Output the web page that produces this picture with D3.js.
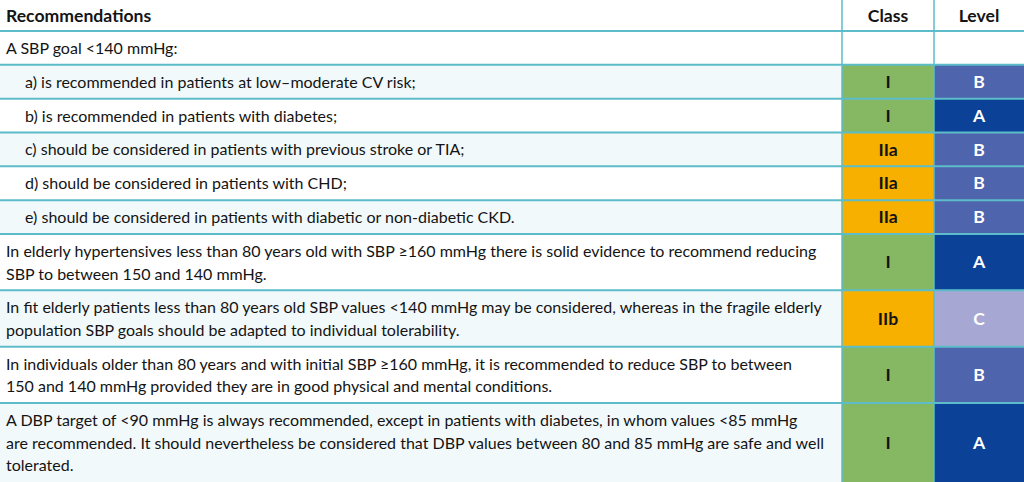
<!DOCTYPE html>
<html>
<head>
<meta charset="utf-8">
<script src="https://cdn.jsdelivr.net/npm/d3@7"></script>
<style>
  html, body { margin: 0; padding: 0; background: #fff; }
  svg { display: block; }
  text { font-family: Lato, "Open Sans", sans-serif; }
</style>
</head>
<body>
<svg id="chart" width="1024" height="482"></svg>
<script>
// ---- data ----
const headers = ["Recommendations", "Class", "Level"];
const recommendations = [
  ["A SBP goal <140 mmHg:"],
  ["a) is recommended in patients at low–moderate CV risk;"],
  ["b) is recommended in patients with diabetes;"],
  ["c) should be considered in patients with previous stroke or TIA;"],
  ["d) should be considered in patients with CHD;"],
  ["e) should be considered in patients with diabetic or non-diabetic CKD."],
  ["In elderly hypertensives less than 80 years old with SBP ≥160 mmHg there is solid evidence to recommend reducing",
   "SBP to between 150 and 140 mmHg."],
  ["In fit elderly patients less than 80 years old SBP values <140 mmHg may be considered, whereas in the fragile elderly",
   "population SBP goals should be adapted to individual tolerability."],
  ["In individuals older than 80 years and with initial SBP ≥160 mmHg, it is recommended to reduce SBP to between",
   "150 and 140 mmHg provided they are in good physical and mental conditions."],
  ["A DBP target of <90 mmHg is always recommended, except in patients with diabetes, in whom values <85 mmHg",
   "are recommended. It should nevertheless be considered that DBP values between 80 and 85 mmHg are safe and well",
   "tolerated."]
];
const indented = [false, true, true, true, true, true, false, false, false, false];
const classes = ["", "I", "I", "IIa", "IIa", "IIa", "I", "IIb", "I", "I"];
const levels  = ["", "B", "A", "B", "B", "B", "A", "C", "B", "A"];

// ---- styles ----
const classColor = { "I": "#86b863", "IIa": "#f8b000", "IIb": "#f8b000" };
const levelColor = { "A": "#0b4197", "B": "#4e64ac", "C": "#a6a8d3" };
const lineColor = "#5cbcc9";
const lightBg = "#f2f9fb";
const textColor = "#141414";

const W = 1024, H = 482, headerH = 31;
const svg = d3.select("#chart");

// column scale
const x = d3.scaleOrdinal().domain(headers).range([0, 842, 934]);
const colEnd = { "Recommendations": 842, "Class": 934, "Level": W };

// vertical scale in "line units": each row = 0.5 + number of lines
const units = recommendations.map(r => r.length + 0.5);
const cum = [0];
units.forEach(u => cum.push(cum[cum.length - 1] + u));
const y = d3.scaleLinear().domain([0, cum[cum.length - 1]]).range([headerH, H]);

const rows = recommendations.map((lines, i) => ({
  i, lines, indent: indented[i], cls: classes[i], lvl: levels[i],
  y0: y(cum[i]), y1: y(cum[i + 1])
}));

const fontSize = 16.0;
const boldSize = 17.6;

// row backgrounds
const g = svg.append("g");
const rg = g.selectAll("g.row").data(rows).join("g").attr("class", "row");

rg.append("rect")
  .attr("x", 0).attr("width", x("Class"))
  .attr("y", d => d.y0).attr("height", d => d.y1 - d.y0)
  .attr("fill", d => d.i % 2 === 1 ? lightBg : "#ffffff");

rg.append("rect")
  .attr("x", x("Class")).attr("width", colEnd["Class"] - x("Class"))
  .attr("y", d => d.y0).attr("height", d => d.y1 - d.y0)
  .attr("fill", d => d.cls ? classColor[d.cls] : "#ffffff");

rg.append("rect")
  .attr("x", x("Level")).attr("width", colEnd["Level"] - x("Level"))
  .attr("y", d => d.y0).attr("height", d => d.y1 - d.y0)
  .attr("fill", d => d.lvl ? levelColor[d.lvl] : "#ffffff");

// recommendation text
const unitPx = y(1) - y(0);
rg.each(function(d) {
  const sel = d3.select(this);
  d.lines.forEach((ln, k) => {
    sel.append("text")
      .attr("x", d.indent ? 25 : 6)
      .attr("y", d.y0 + unitPx * (0.75 + k) + 0.5)
      .attr("dy", "0.35em")
      .attr("font-size", fontSize)
      .attr("fill", textColor)
      .text(ln);
  });
});

// class text
rg.filter(d => d.cls).append("text")
  .attr("x", (x("Class") + colEnd["Class"]) / 2)
  .attr("y", d => (d.y0 + d.y1) / 2)
  .attr("dy", "0.35em")
  .attr("text-anchor", "middle")
  .attr("font-size", boldSize).attr("font-weight", "bold")
  .attr("fill", textColor)
  .text(d => d.cls);

// level text
rg.filter(d => d.lvl).append("text")
  .attr("x", (x("Level") + colEnd["Level"]) / 2)
  .attr("y", d => (d.y0 + d.y1) / 2)
  .attr("dy", "0.35em")
  .attr("text-anchor", "middle")
  .attr("font-size", boldSize).attr("font-weight", "bold")
  .attr("fill", "#ffffff")
  .text(d => d.lvl);

// header
svg.selectAll("text.hdr").data(headers).join("text")
  .attr("class", "hdr")
  .attr("x", d => d === "Recommendations" ? 6 : (x(d) + colEnd[d]) / 2)
  .attr("y", headerH / 2)
  .attr("dy", "0.35em")
  .attr("text-anchor", d => d === "Recommendations" ? "start" : "middle")
  .attr("font-size", boldSize).attr("font-weight", "bold")
  .attr("fill", textColor)
  .text(d => d);

// horizontal lines
const hy = [headerH].concat(rows.slice(1).map(r => r.y0));
svg.selectAll("line.h").data(hy).join("line")
  .attr("class", "h")
  .attr("x1", 0).attr("x2", W)
  .attr("y1", d => d).attr("y2", d => d)
  .attr("stroke", lineColor).attr("stroke-width", 2);

// vertical lines
svg.selectAll("line.v").data(["Class", "Level"]).join("line")
  .attr("class", "v")
  .attr("x1", d => x(d)).attr("x2", d => x(d))
  .attr("y1", 0).attr("y2", H)
  .attr("stroke", lineColor).attr("stroke-width", 1.5);
</script>
</body>
</html>
